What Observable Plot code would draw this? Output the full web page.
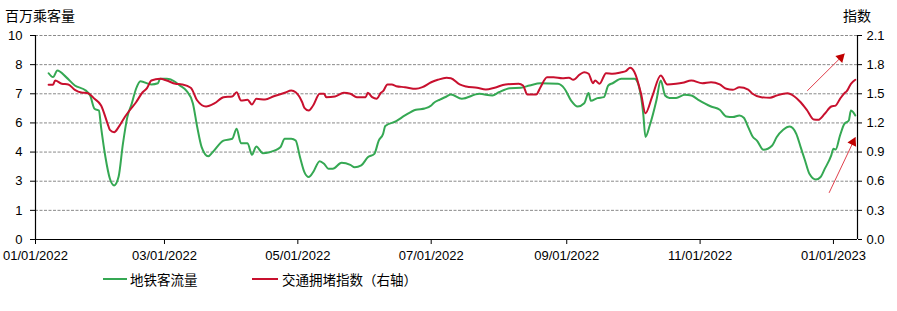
<!DOCTYPE html>
<html>
<head>
<meta charset="utf-8">
<script src="https://cdn.jsdelivr.net/npm/d3@7"></script>
<script src="https://cdn.jsdelivr.net/npm/@observablehq/plot@0.6"></script>
<style>
  html, body { margin: 0; padding: 0; background: #fff; }
  #wrap { position: relative; width: 897px; height: 311px; overflow: hidden; }
  #chart { position: absolute; left: 0; top: 0; }
  .lbl { position: absolute; font-family: "Noto Sans CJK SC", "Noto Sans", sans-serif; color: #000; line-height: 18px; white-space: nowrap; }
  .sw { position: absolute; height: 2px; }
</style>
</head>
<body>
<div id="wrap">
  <div id="chart"></div>
  <div class="lbl" id="ttlL" style="left:5px; top:6px; font-size:14px;">百万乘客量</div>
  <div class="lbl" id="ttlR" style="left:843px; top:6px; font-size:14px;">指数</div>
  <div class="sw" id="swG" style="left:103px; top:278px; width:24px;"></div>
  <div class="lbl" id="lgG" style="left:130px; top:270px; font-size:13.5px;"></div>
  <div class="sw" id="swR" style="left:252px; top:278px; width:26px;"></div>
  <div class="lbl" id="lgR" style="left:282px; top:270px; font-size:13.5px;"></div>
</div>
<script>
// ---------- data ----------
const seriesNames = ["地铁客流量", "交通拥堵指数（右轴）"];
const axisTitles = ["百万乘客量", "指数"];

const metroDates = [
  "2022-01-07","2022-01-09","2022-01-11","2022-01-15","2022-01-19","2022-01-24","2022-01-26","2022-01-28","2022-01-30","2022-01-31",
  "2022-02-02","2022-02-04","2022-02-06","2022-02-08","2022-02-10","2022-02-12","2022-02-14","2022-02-16","2022-02-18","2022-02-23",
  "2022-02-26","2022-02-27","2022-03-02","2022-03-06","2022-03-08","2022-03-11","2022-03-14","2022-03-16","2022-03-18","2022-03-21",
  "2022-03-23","2022-03-28","2022-04-01","2022-04-03","2022-04-05","2022-04-08","2022-04-10","2022-04-12","2022-04-15","2022-04-18",
  "2022-04-23","2022-04-25","2022-04-28","2022-04-30","2022-05-02","2022-05-04","2022-05-06","2022-05-08","2022-05-11","2022-05-13",
  "2022-05-15","2022-05-17","2022-05-21","2022-05-25","2022-05-27","2022-05-30","2022-06-02","2022-06-05","2022-06-07","2022-06-09",
  "2022-06-10","2022-06-15","2022-06-19","2022-06-24","2022-06-28","2022-07-01","2022-07-02","2022-07-05","2022-07-08","2022-07-10",
  "2022-07-15","2022-07-23","2022-07-29","2022-08-01","2022-08-06","2022-08-11","2022-08-15","2022-08-20","2022-08-28","2022-08-31",
  "2022-09-03","2022-09-06","2022-09-09","2022-09-11","2022-09-12","2022-09-15","2022-09-18","2022-09-20","2022-09-22","2022-09-26",
  "2022-10-02","2022-10-03","2022-10-06","2022-10-07","2022-10-09","2022-10-12","2022-10-14","2022-10-16","2022-10-18","2022-10-21",
  "2022-10-25","2022-10-28","2022-10-31","2022-11-06","2022-11-10","2022-11-13","2022-11-16","2022-11-19","2022-11-21","2022-11-23",
  "2022-11-25","2022-11-27","2022-11-30","2022-12-04","2022-12-06","2022-12-09","2022-12-12","2022-12-15","2022-12-17","2022-12-19",
  "2022-12-21","2022-12-24","2022-12-26","2022-12-28","2022-12-31","2023-01-01","2023-01-02","2023-01-04","2023-01-06","2023-01-08",
  "2023-01-09","2023-01-10","2023-01-11"
];
const metroValues = [
  8.15,7.96,8.28,7.96,7.55,7.30,7.06,6.41,6.32,5.50,
  4.03,2.99,2.65,3.07,4.70,6.00,6.65,7.39,7.76,7.60,
  7.66,7.88,7.88,7.72,7.55,7.30,6.67,5.50,4.53,4.08,
  4.28,4.85,4.94,5.43,4.72,4.72,4.15,4.56,4.23,4.28,
  4.52,4.94,4.94,4.85,4.03,3.30,3.06,3.30,3.84,3.71,
  3.47,3.47,3.76,3.66,3.54,3.63,4.03,4.20,4.85,5.18,
  5.56,5.80,6.08,6.36,6.42,6.57,6.68,6.86,7.01,7.11,
  6.90,7.14,7.06,7.22,7.42,7.44,7.55,7.66,7.63,7.39,
  6.81,6.52,6.68,7.18,6.80,6.93,6.98,7.55,7.66,7.88,
  7.88,7.79,6.16,5.03,5.60,6.81,7.79,7.06,6.94,6.94,
  7.09,7.06,6.86,6.52,6.36,6.03,6.00,6.08,5.97,5.51,
  5.05,4.85,4.40,4.61,5.01,5.38,5.54,5.18,4.53,3.87,
  3.22,2.94,3.05,3.46,4.12,4.45,4.41,5.10,5.67,5.83,
  6.32,6.24,6.08
];

const trafficDates = [
  "2022-01-07","2022-01-09","2022-01-10","2022-01-13","2022-01-16","2022-01-19","2022-01-22","2022-01-25","2022-01-28","2022-01-31",
  "2022-02-03","2022-02-04","2022-02-06","2022-02-08","2022-02-11","2022-02-13","2022-02-16","2022-02-19","2022-02-21","2022-02-23",
  "2022-02-27","2022-03-02","2022-03-06","2022-03-09","2022-03-13","2022-03-16","2022-03-20","2022-03-24","2022-03-28","2022-04-01",
  "2022-04-03","2022-04-05","2022-04-08","2022-04-10","2022-04-12","2022-04-16","2022-04-20","2022-04-25","2022-04-28","2022-04-30",
  "2022-05-03","2022-05-04","2022-05-06","2022-05-08","2022-05-11","2022-05-13","2022-05-14","2022-05-18","2022-05-22","2022-05-25",
  "2022-05-28","2022-06-01","2022-06-02","2022-06-04","2022-06-06","2022-06-08","2022-06-09","2022-06-11","2022-06-13","2022-06-15",
  "2022-06-19","2022-06-24","2022-06-27","2022-07-01","2022-07-04","2022-07-08","2022-07-10","2022-07-14","2022-07-17","2022-07-22",
  "2022-07-26","2022-07-30","2022-08-04","2022-08-10","2022-08-12","2022-08-14","2022-08-18","2022-08-20","2022-08-23","2022-08-26",
  "2022-08-30","2022-09-02","2022-09-04","2022-09-07","2022-09-09","2022-09-11","2022-09-13","2022-09-14","2022-09-16","2022-09-19",
  "2022-09-22","2022-09-26","2022-09-28","2022-09-30","2022-10-02","2022-10-05","2022-10-07","2022-10-10","2022-10-14","2022-10-17",
  "2022-10-21","2022-10-24","2022-10-28","2022-11-02","2022-11-06","2022-11-10","2022-11-13","2022-11-16","2022-11-19","2022-11-23",
  "2022-11-25","2022-11-29","2022-12-03","2022-12-06","2022-12-11","2022-12-14","2022-12-17","2022-12-20","2022-12-23","2022-12-25",
  "2022-12-28","2022-12-31","2023-01-02","2023-01-04","2023-01-06","2023-01-07","2023-01-09","2023-01-11"
];
const trafficValues = [
  1.593,1.593,1.637,1.603,1.596,1.541,1.513,1.506,1.448,1.379,
  1.191,1.129,1.105,1.156,1.266,1.328,1.413,1.516,1.558,1.637,
  1.654,1.637,1.603,1.596,1.562,1.431,1.369,1.403,1.465,1.472,
  1.516,1.431,1.438,1.390,1.448,1.441,1.475,1.510,1.534,1.516,
  1.413,1.356,1.328,1.379,1.500,1.500,1.465,1.472,1.510,1.500,
  1.465,1.465,1.510,1.465,1.448,1.510,1.527,1.596,1.596,1.578,
  1.568,1.551,1.568,1.619,1.644,1.665,1.661,1.596,1.575,1.562,
  1.544,1.562,1.596,1.603,1.585,1.493,1.493,1.568,1.671,1.671,
  1.661,1.665,1.644,1.699,1.722,1.706,1.609,1.637,1.603,1.712,
  1.706,1.722,1.733,1.768,1.722,1.500,1.300,1.465,1.688,1.596,
  1.603,1.613,1.637,1.609,1.619,1.596,1.551,1.541,1.568,1.544,
  1.500,1.465,1.459,1.482,1.506,1.475,1.413,1.328,1.235,1.232,
  1.294,1.369,1.379,1.448,1.506,1.524,1.603,1.644
];

const xDomain = ["2022-01-01", "2023-01-12"];
const xTickDates = ["2022-01-01","2022-03-01","2022-05-01","2022-07-01","2022-09-01","2022-11-01","2023-01-01"];
const leftDomain = [0, 10];
const leftTickLabels = ["0","1","3","4","6","7","8","10"];
const rightDomain = [0, 2.1];
const rightTickValues = [0, 0.3, 0.6, 0.9, 1.2, 1.5, 1.8, 2.1];

// arrows (right-axis units): [fromDate, fromValue, toDate, toValue]
const arrowStarts = [["2022-12-20", 1.53], ["2022-12-30", 0.48]];
const arrowEnds   = [["2023-01-06", 1.91], ["2023-01-11", 1.05]];

// ---------- build ----------
const GREEN = "#35a853";
const RED = "#c8102e";
const toLeft = v => v * leftDomain[1] / rightDomain[1];
const leftStep = leftDomain[1] / (leftTickLabels.length - 1);

const metro = metroDates.map((d, i) => ({date: new Date(d), value: metroValues[i]}));
const traffic = trafficDates.map((d, i) => ({date: new Date(d), value: trafficValues[i]}));
const arrows = arrowStarts.map((s, i) => ({
  x1: new Date(s[0]), y1: toLeft(s[1]), x2: new Date(arrowEnds[i][0]), y2: toLeft(arrowEnds[i][1])
}));
const xStart = new Date(xDomain[0]), xEnd = new Date(xDomain[1]);
const leftIdx = leftTickLabels.map((_, i) => i);
const fmt = d3.utcFormat("%m/%d/%Y");

const chart = Plot.plot({
  width: 897,
  height: 270,
  marginLeft: 35,
  marginRight: 40,
  marginTop: 35,
  marginBottom: 31,
  style: {fontFamily: "'Liberation Sans', Arial, sans-serif", fontSize: "13px", color: "#000", background: "transparent"},
  x: {type: "utc", domain: [xStart, xEnd]},
  y: {domain: leftDomain},
  marks: [
    Plot.ruleY(leftIdx.slice(1), {y: i => i * leftStep, stroke: "#8a8a8a", strokeWidth: 1, strokeDasharray: "3,1.5"}),
    Plot.axisY(leftIdx, {y: i => i * leftStep, anchor: "left", tickSize: 5, tickPadding: 8, tickFormat: i => leftTickLabels[i], label: null, fontSize: 13}),
    Plot.axisY(rightTickValues, {y: v => toLeft(v), anchor: "right", tickSize: 4, tickPadding: 5, tickFormat: v => v.toFixed(1), label: null, fontSize: 13}),
    Plot.axisX(xTickDates.map(d => new Date(d)), {anchor: "bottom", tickSize: 5, tickPadding: 6, tickFormat: d => fmt(d), label: null, fontSize: 13}),
    Plot.ruleX([xStart, xEnd], {stroke: "#000", strokeWidth: 1.2}),
    Plot.ruleY([0], {stroke: "#000", strokeWidth: 1.2}),
    Plot.line(metro, {x: "date", y: "value", stroke: GREEN, strokeWidth: 2, curve: "monotone-x"}),
    Plot.line(traffic, {x: "date", y: d => toLeft(d.value), stroke: RED, strokeWidth: 2, curve: "monotone-x"}),
    Plot.link(arrows, {x1: "x1", y1: "y1", x2: "x2", y2: "y2", stroke: "#e0404c", strokeWidth: 1}),
    Plot.dot(arrows.slice(0, 1), {x: "x2", y: "y2", symbol: "triangle", r: 3.6, fill: "#c00000", stroke: "none", rotate: 45, dx: -3.6, dy: 3.6}),
    Plot.dot(arrows.slice(1, 2), {x: "x2", y: "y2", symbol: "triangle", r: 3.6, fill: "#c00000", stroke: "none", rotate: 26.5, dx: -2.3, dy: 4.6})
  ]
});
document.getElementById("chart").appendChild(chart);

document.getElementById("ttlL").textContent = axisTitles[0];
document.getElementById("ttlR").textContent = axisTitles[1];
document.getElementById("lgG").textContent = seriesNames[0];
document.getElementById("lgR").textContent = seriesNames[1];
document.getElementById("swG").style.background = GREEN;
document.getElementById("swR").style.background = RED;
</script>
</body>
</html>
